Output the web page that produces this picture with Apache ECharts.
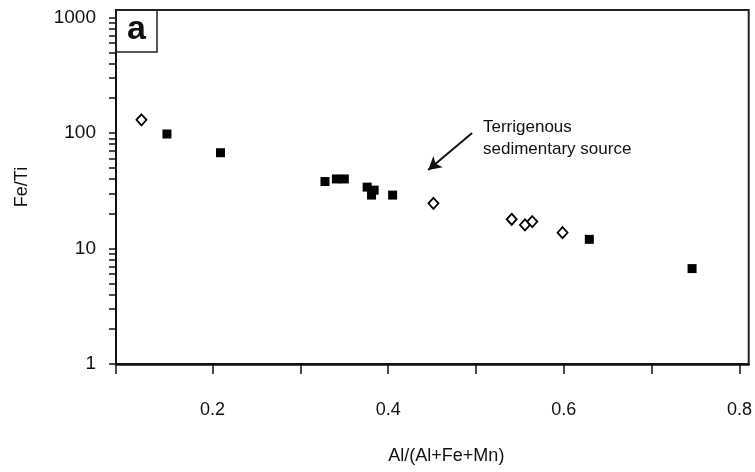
<!DOCTYPE html>
<html>
<head>
<meta charset="utf-8">
<script src="https://cdn.jsdelivr.net/npm/echarts@6/dist/echarts.min.js"></script>
<style>html,body{margin:0;padding:0;background:#fff}#c{width:755px;height:472px}</style>
</head>
<body>
<div id="c"></div>
<script>
// Open diamonds
const diamondX = [0.119, 0.4515, 0.5406, 0.5557, 0.564, 0.5985];
const diamondY = [130, 24.6, 17.9, 16.0, 17.1, 13.7];
// Filled squares
const squareX = [0.148, 0.209, 0.328, 0.341, 0.350, 0.376, 0.384, 0.381, 0.405, 0.629, 0.746];
const squareY = [98, 67.5, 38, 40, 40, 34, 32, 29, 29, 12.0, 6.7];
// Axis ticks and labels
const xTickValues = [0.09, 0.2, 0.3, 0.4, 0.5, 0.6, 0.7, 0.8];
const xLabelValues = [0.2, 0.4, 0.6, 0.8];
const yLabelValues = [1, 10, 100, 1000];
const yTickValues = [1,2,3,4,5,6,7,8,9,10,20,30,40,50,60,70,80,90,100,200,300,400,500,600,700,800,900,1000];
// Annotation arrow (data coordinates)
const arrowFrom = [0.4955, 100];
const arrowTo = [0.4455, 47.8];

const chart = echarts.init(document.getElementById('c'));
const font = 'Liberation Sans, Arial, sans-serif';
chart.setOption({
  animation: false,
  title: {
    text: 'a', left: 116, top: 10,
    borderColor: '#222', borderWidth: 1.5,
    padding: [3, 11, 5, 11],
    textStyle: { fontFamily: font, fontSize: 34, fontWeight: 'bold', color: '#111', lineHeight: 34 }
  },
  grid: { left: 116, right: 5, top: 10, bottom: 108, show: true, borderColor: '#222', borderWidth: 2 },
  xAxis: {
    type: 'value', min: 0.09, max: 0.8105,
    name: 'Al/(Al+Fe+Mn)', nameLocation: 'middle', nameGap: 83,
    nameTextStyle: { fontFamily: font, fontSize: 18, color: '#111', padding: [0, 0, 0, 28] },
    axisLine: { show: true, lineStyle: { color: '#111', width: 2.5 } },
    axisTick: { show: true, customValues: xTickValues, length: 10, lineStyle: { color: '#111', width: 1.5 } },
    axisLabel: { customValues: xLabelValues, margin: 37, fontFamily: font, fontSize: 18, color: '#111',
      formatter: v => (Math.round(v * 10) / 10).toString() },
    splitLine: { show: false }
  },
  yAxis: {
    type: 'log', logBase: 10, min: 1, max: 1161,
    name: 'Fe/Ti', nameLocation: 'middle', nameGap: 85,
    nameTextStyle: { fontFamily: font, fontSize: 18, color: '#111' },
    axisLine: { show: true, lineStyle: { color: '#111', width: 2 } },
    axisTick: { show: true, customValues: yTickValues, length: 7, lineStyle: { color: '#111', width: 1.5 } },
    axisLabel: { customValues: yLabelValues, margin: 20, fontFamily: font, fontSize: 19, color: '#111',
      formatter: v => String(Math.round(v)) },
    splitLine: { show: false },
    minorTick: { show: false }
  },
  series: [
    {
      type: 'scatter', name: 'diamonds',
      data: diamondX.map((x, i) => [x, diamondY[i]]),
      symbol: 'diamond', symbolSize: [10, 11],
      itemStyle: { color: '#fff', borderColor: '#000', borderWidth: 1.8, opacity: 1 },
      z: 3
    },
    {
      type: 'scatter', name: 'squares',
      data: squareX.map((x, i) => [x, squareY[i]]),
      symbol: 'rect', symbolSize: 9,
      itemStyle: { color: '#000', opacity: 1 },
      z: 3,
      markLine: {
        silent: true, animation: false,
        symbol: ['none', 'arrow'], symbolSize: [11, 13],
        lineStyle: { color: '#111', width: 2, type: 'solid', opacity: 1 },
        label: { show: false },
        data: [[{ coord: arrowFrom }, { coord: arrowTo }]]
      }
    }
  ],
  graphic: [
    { type: 'text', left: 483, top: 119, style: { text: 'Terrigenous', fontFamily: font, fontSize: 17, fill: '#111' } },
    { type: 'text', left: 483, top: 141, style: { text: 'sedimentary source', fontFamily: font, fontSize: 17, fill: '#111' } }
  ]
});
</script>
</body>
</html>
